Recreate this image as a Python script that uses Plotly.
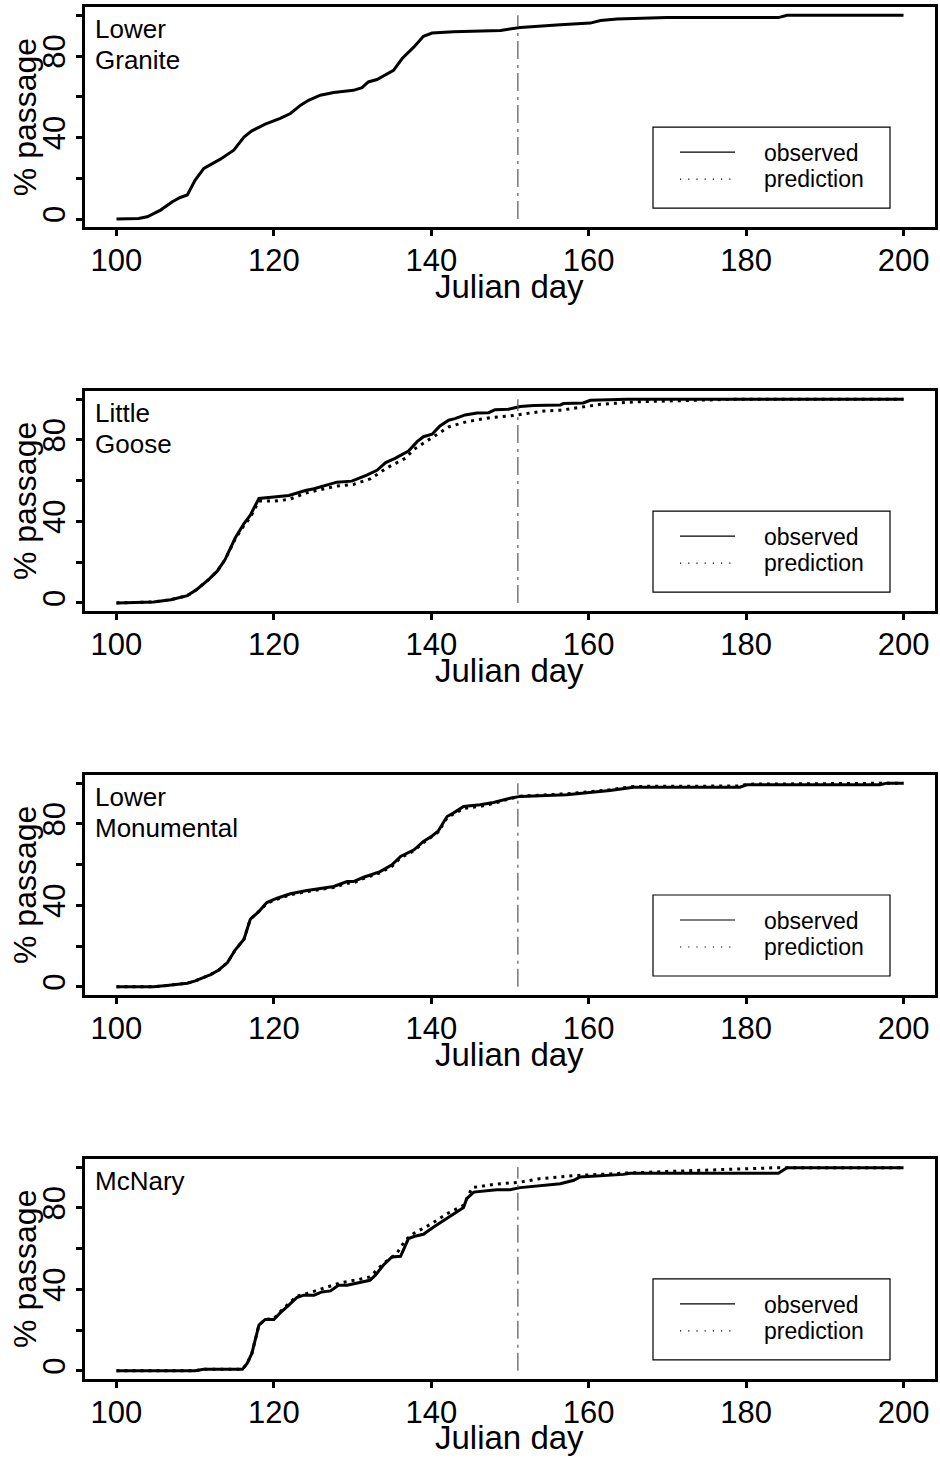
import plotly.graph_objects as go

# ---------------- data ----------------
panel_names = [["Lower", "Granite"], ["Little", "Goose"], ["Lower", "Monumental"], ["McNary"]]
x_ticks = [100, 120, 140, 160, 180, 200]
y_ticks = [0, 20, 40, 60, 80, 100]
y_tick_text = ["0", "", "40", "", "80", ""]
cutoff_day = 151

lg_obs_day = [100, 102.8, 103.9, 105.6, 107.1, 108.1, 109, 110, 111.1, 113.2, 114.9, 116.2, 117.2,
              118.9, 120.8, 122.1, 123.4, 124.4, 125.9, 127.6, 130.1, 131.2, 132, 133.1, 135.2,
              136.3, 137.8, 139, 140.1, 142.8, 148.8, 151.3, 156.4, 158.1, 160.2, 161.5, 163.6,
              169.9, 184.1, 185.2, 200]
lg_obs_pct = [0, 0.3, 1.1, 4.4, 8.5, 10.6, 11.8, 19.1, 24.9, 29.4, 33.8, 40.3, 43.3,
              46.6, 49.4, 51.8, 55.9, 58.3, 60.8, 62.1, 63.2, 64.5, 67.3, 68.5, 73,
              78.8, 84.5, 89.7, 91.3, 92, 92.6, 94, 95.4, 95.6, 96.2, 97.5, 98.2,
              98.9, 98.9, 100, 100]

gs_obs_day = [100, 104.7, 106.9, 109, 110.2, 111.7, 112.8, 113.8, 115.1, 116.2, 117, 118.1, 120,
              121.9, 124, 125.1, 128, 129.9, 131.8, 133.1, 134.2, 135.4, 137.1, 138.2, 139, 140.1,
              141.1, 142.2, 143, 144.3, 145.8, 147.3, 148.1, 149.8, 151.3, 153, 156.4, 156.8,
              159.3, 160.2, 164.9, 200]
gs_obs_pct = [0, 0.5, 1.6, 3.6, 6.6, 11.5, 15.6, 21.3, 32, 38.9, 43.1, 51.3, 52,
              52.8, 55.2, 56.1, 59.3, 59.8, 62.8, 65.1, 68.9, 71, 74.6, 79.2, 81.6, 82.8,
              86.9, 89.7, 90.5, 92.3, 93.3, 93.4, 94.9, 95.1, 96.4, 96.9, 97.2, 97.9,
              98.2, 99.5, 100, 100]
gs_pred_day = [100, 104.7, 106.9, 109, 110.2, 111.7, 112.8, 113.8, 115.1, 116.2, 117, 118.1, 120,
               121.9, 124.2, 128, 130.1, 132.3, 134.4, 136.7, 137.8, 139.5, 140.7, 142.2, 144.5,
               147.5, 150, 151.3, 154.3, 156.4, 159.3, 161.5, 165.7, 172, 178.4, 200]
gs_pred_pct = [0, 0.5, 1.6, 3.6, 6.6, 11.5, 15.6, 21.3, 31.5, 38, 42, 50, 50,
               50.8, 54.1, 57.4, 58.2, 61, 66.4, 71, 75.4, 79.8, 82.8, 86.4, 89,
               91, 91.8, 92.6, 94.2, 94.6, 96.2, 97.5, 98.7, 99.5, 100, 100]

lm_obs_day = [100, 104.7, 106.4, 109, 110, 111.9, 113, 114.1, 115.1, 116.2, 117, 118.1, 119.1,
              120.4, 122.1, 124.2, 127.6, 129.3, 130.1, 131.4, 133.5, 135, 136.1, 137.8, 139,
              140.1, 140.9, 142, 142.8, 144.1, 146.2, 147.9, 150, 151.3, 157.2, 162.7, 165.7,
              179.2, 180.1, 197, 197.9, 200]
lm_obs_pct = [0, 0, 0.7, 1.8, 2.9, 5.9, 8.3, 11.9, 18.2, 23.4, 33.2, 37, 41.4,
              43.5, 45.7, 47.3, 49.3, 51.7, 51.7, 53.8, 56.6, 59.9, 64, 67.3, 71.4,
              74.1, 76.6, 83.6, 85.3, 88.5, 89.4, 90.5, 92.6, 93.5, 94.3, 96.4, 98,
              98, 99.2, 99.2, 100, 100]
lm_pred_day = [100, 104.7, 106.4, 109, 110, 111.9, 113, 114.1, 115.1, 116.2, 117, 118.1, 119.1,
               120.4, 122.1, 124.2, 127.6, 129.3, 130.1, 131.4, 133.5, 135, 136.1, 137.8, 139,
               140.1, 140.9, 142, 142.8, 144.1, 146.2, 147.9, 150, 151.3, 157.2, 162.7, 165.7,
               179.2, 180.1, 190, 200]
lm_pred_pct = [0, 0, 0.7, 1.8, 2.9, 5.9, 8.3, 11.9, 18.2, 23.4, 33.2, 37, 41,
               43, 45.2, 46.8, 48.8, 50.8, 51, 53.2, 56, 59.2, 63.4, 66.8, 70.8,
               73.6, 76, 83, 84.6, 87.6, 88.6, 90, 92.4, 93.6, 94.8, 96.8, 98.4,
               98.6, 99.5, 99.6, 100]

mc_obs_day = [100, 110, 111.1, 116, 116.6, 117.2, 118.1, 118.9, 120, 120.8, 121.9, 122.9, 123.8,
              125.1, 126.1, 127.2, 128.2, 129.3, 132.2, 132.9, 133.9, 135, 136.1, 137.1, 137.9,
              139, 140.3, 144.1, 144.5, 145.4, 148.3, 150, 151.3, 156.4, 158.1, 158.9, 164.4,
              165.3, 184.1, 185.2, 200]
mc_obs_pct = [0, 0, 0.7, 0.7, 3.6, 8.5, 22.4, 25.2, 25.2, 28.4, 32.2, 35.9, 37.1,
              37.1, 38.7, 39.2, 42, 42, 44.4, 46.9, 51.8, 55.9, 56.2, 64.9, 66,
              67, 70.6, 80.1, 84.5, 87.7, 88.9, 88.9, 89.9, 91.8, 93.5, 95.1, 96.4,
              97, 97, 99.7, 99.7]
mc_pred_day = [100, 110, 111.1, 116, 116.6, 117.2, 118.1, 118.9, 120, 120.8, 121.9, 122.9, 124.2,
               126.3, 128.4, 130.8, 132.2, 133.9, 135.6, 136.7, 137.8, 139.9, 142, 144.1, 145.2,
               147.9, 151.3, 153.8, 158.5, 161.5, 164.4, 174.2, 184.1, 200]
mc_pred_pct = [0, 0, 0.7, 0.7, 3.6, 8.5, 22.4, 25.2, 25.6, 29, 33, 36.6, 37.9,
               40.4, 43.1, 44.8, 46.1, 52.6, 57.5, 64.1, 67.5, 71.9, 77.1, 81.2, 89.9,
               91.5, 92.6, 94.3, 95.9, 96.4, 97, 98.4, 99.7, 99.7]

observed = [(lg_obs_day, lg_obs_pct), (gs_obs_day, gs_obs_pct), (lm_obs_day, lm_obs_pct), (mc_obs_day, mc_obs_pct)]
predicted = [None, (gs_pred_day, gs_pred_pct), (lm_pred_day, lm_pred_pct), (mc_pred_day, mc_pred_pct)]

# ---------------- layout geometry ----------------
W, H = 940, 1461
FONT = "Liberation Sans, Arial, Helvetica, sans-serif"
BOX_L, BOX_R = 85, 935
PANEL_TOP0, PANEL_STEP, PANEL_H = 7.2, 383.9, 220


def fx(p):
    return p / W


def fy(p):
    return 1 - p / H


fig = go.Figure()
annotations = []
shapes = []

for i in range(4):
    n = "" if i == 0 else str(i + 1)
    xa, ya = "x" + n, "y" + n
    top = PANEL_TOP0 + PANEL_STEP * i
    bot = top + PANEL_H

    fig.add_trace(go.Scatter(x=observed[i][0], y=observed[i][1], mode="lines",
                             line=dict(color="black", width=3), xaxis=xa, yaxis=ya,
                             showlegend=False, hoverinfo="skip"))
    if predicted[i] is not None:
        fig.add_trace(go.Scatter(x=predicted[i][0], y=predicted[i][1], mode="lines",
                                 line=dict(color="black", width=3, dash="3px,5px"),
                                 xaxis=xa, yaxis=ya, showlegend=False, hoverinfo="skip"))

    axis_common = dict(showgrid=False, zeroline=False, showline=True, linecolor="black",
                       linewidth=3, mirror=True, ticks="outside", ticklen=6, tickwidth=2.5,
                       tickcolor="black", automargin=False)
    fig.update_layout({
        "xaxis" + n: dict(domain=[fx(BOX_L), fx(BOX_R)], range=[96, 204], tickvals=x_ticks,
                          ticktext=[str(v) for v in x_ticks], anchor=ya,
                          tickfont=dict(size=31, color="black", family=FONT),
                          ticklabelstandoff=-2, **axis_common),
        "yaxis" + n: dict(domain=[fy(bot), fy(top)], range=[-4, 104], tickvals=y_ticks,
                          ticktext=y_tick_text, tickangle=-90, anchor=xa,
                          tickfont=dict(size=31, color="black", family=FONT),
                          ticklabelstandoff=-1, **axis_common),
    })

    # cutoff line
    shapes.append(dict(type="line", xref=xa, yref=ya, x0=cutoff_day, x1=cutoff_day, y0=0, y1=100,
                       line=dict(color="#555555", width=1.2, dash="18px,5px,3px,6px")))

    # axis titles
    annotations.append(dict(text="Julian day", xref="paper", yref="paper", x=fx(510), y=fy(bot + 59),
                            xanchor="center", yanchor="middle", showarrow=False,
                            font=dict(size=33, color="black", family=FONT)))
    annotations.append(dict(text="% passage", xref="paper", yref="paper", x=fx(25), y=fy((top + bot) / 2),
                            xanchor="center", yanchor="middle", showarrow=False, textangle=-90,
                            font=dict(size=32, color="black", family=FONT)))
    # panel label (one annotation per line)
    for k, line_txt in enumerate(panel_names[i]):
        annotations.append(dict(text=line_txt, xref="paper", yref="paper", x=fx(93),
                                y=fy(top + 22 + 31 * k),
                                xanchor="left", yanchor="middle", align="left", showarrow=False,
                                font=dict(size=26, color="black", family=FONT)))
    # legend box
    shapes.append(dict(type="rect", xref="paper", yref="paper", x0=fx(653), x1=fx(890),
                       y0=fy(top + 201), y1=fy(top + 120), line=dict(color="black", width=1.2),
                       fillcolor="white", layer="above"))
    shapes.append(dict(type="line", xref="paper", yref="paper", x0=fx(680), x1=fx(735),
                       y0=fy(top + 145), y1=fy(top + 145), line=dict(color="black", width=1.2)))
    shapes.append(dict(type="line", xref="paper", yref="paper", x0=fx(680), x1=fx(735),
                       y0=fy(top + 172), y1=fy(top + 172), line=dict(color="black", width=1.2, dash="1.2px,7px")))
    annotations.append(dict(text="observed", xref="paper", yref="paper", x=fx(762), y=fy(top + 146),
                            xanchor="left", yanchor="middle", showarrow=False,
                            font=dict(size=23, color="black", family=FONT)))
    annotations.append(dict(text="prediction", xref="paper", yref="paper", x=fx(762), y=fy(top + 172),
                            xanchor="left", yanchor="middle", showarrow=False,
                            font=dict(size=23, color="black", family=FONT)))

fig.update_layout(width=W, height=H, margin=dict(l=0, r=0, t=0, b=0), plot_bgcolor="white",
                  paper_bgcolor="white", showlegend=False, annotations=annotations, shapes=shapes,
                  font=dict(family=FONT, color="black"))

fig.write_html("out.html")
